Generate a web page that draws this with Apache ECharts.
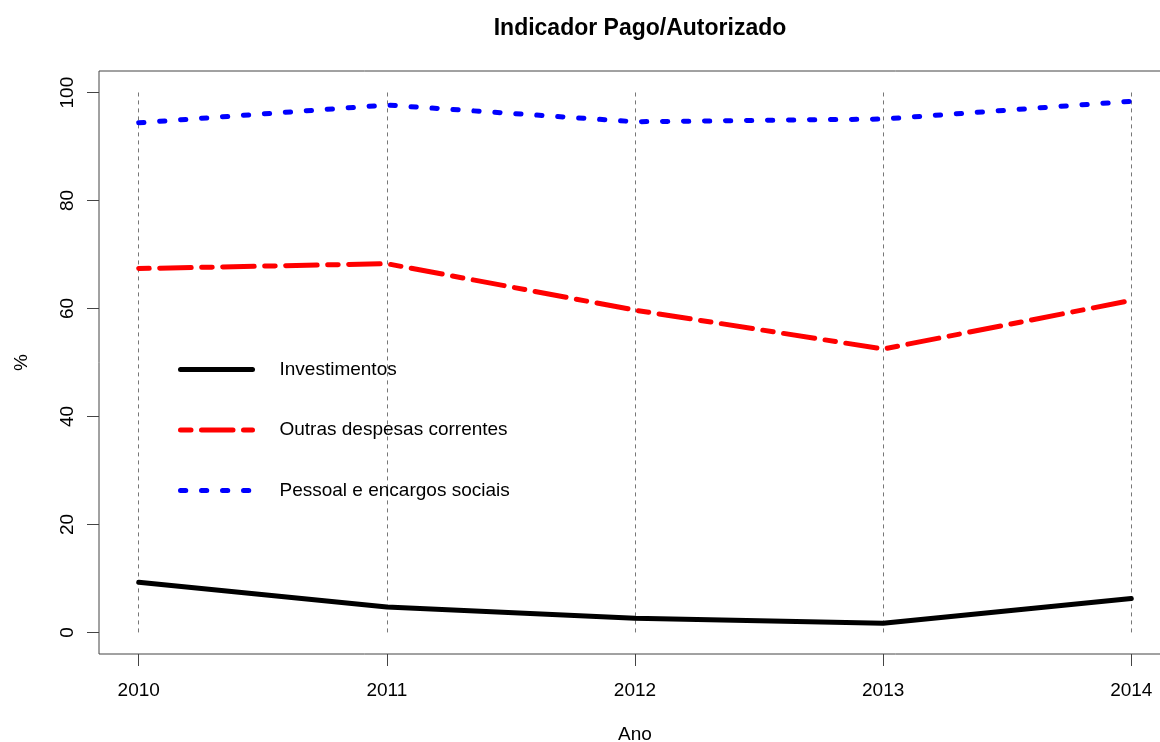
<!DOCTYPE html>
<html>
<head>
<meta charset="utf-8">
<script src="https://cdn.jsdelivr.net/npm/echarts@6/dist/echarts.min.js"></script>
<style>
  html, body { margin: 0; padding: 0; background: #fff; overflow: hidden; }
  #chart { width: 1160px; height: 742px; }
</style>
</head>
<body>
<div id="chart"></div>
<script>
// dados
const anos = [2010, 2011, 2012, 2013, 2014];
const investimentos = [9.3, 4.7, 2.6, 1.7, 6.3];
const outrasDespesas = [67.4, 68.3, 59.7, 52.5, 61.5];
const pessoal = [94.4, 97.7, 94.6, 95.1, 98.4];
const yTicks = [0, 20, 40, 60, 80, 100];

const font = 'Liberation Sans, Arial, sans-serif';
const axisGray = '#444';

const pares = (vals) => anos.map((a, i) => [a, vals[i]]);

const gridLines = anos.map(a => [{ coord: [a, 0] }, { coord: [a, 100] }]);

const option = {
  animation: false,
  backgroundColor: '#fff',
  title: {
    text: 'Indicador Pago/Autorizado',
    left: 635,
    top: 12,
    textAlign: 'center',
    textStyle: { fontFamily: font, fontSize: 23, fontWeight: 'bold', color: '#000' },
  },
  // a caixa passa da borda direita, como no original
  grid: {
    left: 99,
    top: 71,
    width: 1072,
    height: 583,
    outerBoundsMode: 'none',
    show: true,
    borderColor: axisGray,
    borderWidth: 1,
    backgroundColor: 'transparent',
  },
  legend: {
    orient: 'vertical',
    left: 173,
    top: 355,
    itemWidth: 72,
    itemHeight: 20,
    itemGap: 41.5,
    itemStyle: { opacity: 0 },
    lineStyle: { width: 5, cap: 'round' },
    formatter: name => '{g|}' + name,
    textStyle: {
      fontFamily: font, fontSize: 19, color: '#000',
      rich: { g: { width: 22 } },
    },
  },
  xAxis: {
    type: 'value',
    min: 2009.84,
    max: 2014.16,
    name: 'Ano',
    nameLocation: 'middle',
    nameGap: 71,
    nameTextStyle: { fontFamily: font, fontSize: 19, color: '#000' },
    axisLine: { show: false, onZero: false },
    splitLine: { show: false },
    axisTick: { show: true, length: 12, customValues: anos, lineStyle: { color: axisGray } },
    axisLabel: { customValues: anos, margin: 27, fontFamily: font, fontSize: 19, color: '#000', formatter: v => String(v) },
  },
  yAxis: {
    type: 'value',
    min: -4,
    max: 104,
    name: '%',
    nameLocation: 'middle',
    nameGap: 68,
    nameRotate: 90,
    nameTextStyle: { fontFamily: font, fontSize: 19, color: '#000' },
    axisLine: { show: false, onZero: false },
    splitLine: { show: false },
    axisTick: { show: true, length: 12, customValues: yTicks, lineStyle: { color: axisGray } },
    axisLabel: { customValues: yTicks, rotate: 90, margin: 22, fontFamily: font, fontSize: 19, color: '#000' },
  },
  series: [
    {
      name: 'Investimentos',
      type: 'line',
      data: pares(investimentos),
      showSymbol: false,
      symbol: 'none',
      z: 3,
      lineStyle: { width: 5, color: '#000', cap: 'round', join: 'round' },
      itemStyle: { color: '#000' },
      markLine: {
        silent: true,
        z: 1,
        symbol: ['none', 'none'],
        label: { show: false },
        emphasis: { disabled: true },
        lineStyle: { color: '#777', width: 1, type: [4, 4] },
        data: gridLines,
      },
    },
    {
      name: 'Outras despesas correntes',
      type: 'line',
      data: pares(outrasDespesas),
      showSymbol: false,
      symbol: 'none',
      z: 3,
      lineStyle: { width: 5, color: '#ff0000', type: [10.5, 10.5, 31.5, 10.5], cap: 'round', join: 'round' },
      itemStyle: { color: '#ff0000' },
    },
    {
      name: 'Pessoal e encargos sociais',
      type: 'line',
      data: pares(pessoal),
      showSymbol: false,
      symbol: 'none',
      z: 3,
      lineStyle: { width: 5, color: '#0000ff', type: [5.25, 15.75], cap: 'round', join: 'round' },
      itemStyle: { color: '#0000ff' },
    },
  ],
};

const chart = echarts.init(document.getElementById('chart'), null, { renderer: 'canvas' });
chart.setOption(option);
</script>
</body>
</html>
